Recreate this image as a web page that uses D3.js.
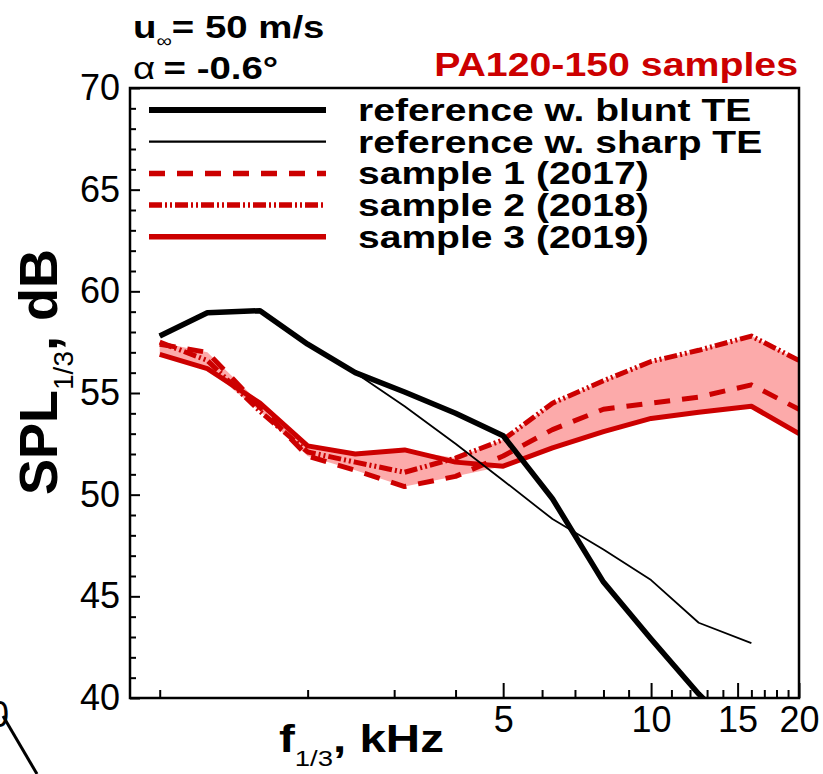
<!DOCTYPE html>
<html>
<head>
<meta charset="utf-8">
<title>SPL PA120-150 samples</title>
<script src="https://cdn.jsdelivr.net/npm/d3@7"></script>
<style>
  body { margin: 0; background: #fff; }
  svg { display: block; font-family: "Liberation Sans", Arial, sans-serif; }
</style>
</head>
<body>
<svg id="chart" width="823" height="774"></svg>
<script>
// 1/3-octave band centre frequencies, kHz
var freqs = [1, 1.25, 1.6, 2, 2.5, 3.15, 4, 5, 6.3, 8, 10, 12.5, 16, 20];

// SPL values, dB (null = not plotted)
var bluntTE = [57.8, 58.95, 59.05, 57.4, 56.0, 55.05, 54.0, 52.9, 49.8, 45.7, 42.9, 40.2, 37.6, null];
var sharpTE = [57.8, 58.95, 59.05, 57.4, 56.0, 54.35, 52.5, 50.7, 48.8, 47.3, 45.8, 43.7, 42.7, null];
var sample1 = [57.4, 57.0, 54.3, 51.9, 51.2, 50.4, 50.9, 51.9, 53.2, 54.2, 54.5, 54.8, 55.4, 54.2];
var sample2 = [57.5, 56.6, 54.1, 52.1, 51.6, 51.1, 51.8, 52.7, 54.5, 55.6, 56.55, 57.1, 57.8, 56.6];
var sample3 = [56.9, 56.2, 54.5, 52.4, 52.0, 52.2, 51.6, 51.4, 52.3, 53.1, 53.75, 54.05, 54.35, 53.0];

var yMajor = [40, 45, 50, 55, 60, 65, 70];
var yMinor = d3.range(40, 71).filter(function(d) { return d % 5 != 0; });
var xMajor = [5, 10, 15, 20];
var xMinor = [1, 2, 3, 4, 6, 7, 8, 9, 11, 12, 13, 14, 16, 17, 18, 19];

var legendLabels = ["reference w. blunt TE", "reference w. sharp TE",
  "sample 1 (2017)", "sample 2 (2018)", "sample 3 (2019)"];

var red = "#cc0000";
var plotL = 130, plotR = 799, plotT = 88, plotB = 698;

var svg = d3.select("#chart");

var x = d3.scaleLog().domain([0.87, 20]).range([plotL, plotR]);
var y = d3.scaleLinear().domain([40, 70]).range([plotB, plotT]);

// text stretched horizontally like the original export
function stext(g, px, py, size, sx, anchor, weight) {
  return g.append("text")
    .attr("transform", "translate(" + px + "," + py + ") scale(" + sx + ",1)")
    .attr("text-anchor", anchor || "start")
    .style("font-size", size + "px")
    .style("font-weight", weight || "bold");
}

var series = [
  {vals: bluntTE, color: "#000", width: 5.5, dash: null},
  {vals: sharpTE, color: "#000", width: 1.8, dash: null},
  {vals: sample1, color: red, width: 5, dash: "16,12"},
  {vals: sample2, color: red, width: 5, dash: "13,3,2,3,2,3"},
  {vals: sample3, color: red, width: 5, dash: null}
];

svg.append("clipPath").attr("id", "plotclip")
  .append("rect")
  .attr("x", plotL).attr("y", plotT)
  .attr("width", plotR - plotL).attr("height", plotB - plotT);

var plot = svg.append("g").attr("clip-path", "url(#plotclip)");

// band between the lowest and highest sample
var band = freqs.map(function(f, i) {
  return {f: f, lo: d3.min([sample1[i], sample2[i], sample3[i]]), hi: d3.max([sample1[i], sample2[i], sample3[i]])};
});
plot.append("path")
  .datum(band)
  .attr("fill", "#fcaaaa")
  .attr("d", d3.area()
    .x(function(d) { return x(d.f); })
    .y0(function(d) { return y(d.lo); })
    .y1(function(d) { return y(d.hi); }));

var line = d3.line()
  .defined(function(d) { return d[1] != null; })
  .x(function(d) { return x(d[0]); })
  .y(function(d) { return y(d[1]); });

// red samples first, references on top
[2, 3, 4, 0, 1].forEach(function(k) {
  var s = series[k];
  plot.append("path")
    .datum(freqs.map(function(f, i) { return [f, s.vals[i]]; }))
    .attr("fill", "none")
    .attr("stroke", s.color)
    .attr("stroke-width", s.width)
    .attr("stroke-dasharray", s.dash)
    .attr("stroke-linejoin", "round")
    .attr("d", line);
});

// axes
var yAxis = svg.append("g").attr("transform", "translate(" + plotL + ",0)");
yAxis.call(d3.axisLeft(y).tickValues(yMajor).tickSize(-10).tickPadding(10));
yAxis.append("g").call(d3.axisLeft(y).tickValues(yMinor).tickSize(-6).tickFormat(""));

var xAxis = svg.append("g").attr("transform", "translate(0," + plotB + ")");
xAxis.call(d3.axisBottom(x).tickValues(xMajor).tickSize(-15).tickPadding(8).tickFormat(d3.format("d")));
xAxis.append("g").call(d3.axisBottom(x).tickValues(xMinor).tickSize(-8).tickFormat(""));

svg.selectAll(".domain").remove();
svg.selectAll(".tick line").attr("stroke", "#000").attr("stroke-width", 2);
svg.selectAll(".tick text")
  .style("font-size", "36px")
  .style("font-family", "'Liberation Sans', Arial, sans-serif")
  .attr("fill", "#000");

// frame
svg.append("rect")
  .attr("x", plotL).attr("y", plotT)
  .attr("width", plotR - plotL).attr("height", plotB - plotT)
  .attr("fill", "none").attr("stroke", "#000").attr("stroke-width", 2.5);

// axis titles
var xt = stext(svg, 279, 752, 38, 1.25, "start");
xt.append("tspan").text("f");
xt.append("tspan").attr("dy", 14).style("font-size", "22px").style("font-weight", "normal").text("1/3");
xt.append("tspan").attr("dy", -14).text(", kHz");

var yt = svg.append("text")
  .attr("transform", "translate(57,372) rotate(-90)")
  .attr("text-anchor", "middle")
  .style("font-size", "54px").style("font-weight", "bold");
yt.append("tspan").text("SPL");
yt.append("tspan").attr("dy", 16).style("font-size", "28px").style("font-weight", "normal").text("1/3");
yt.append("tspan").attr("dy", -16).text(", dB");

// conditions
var u = stext(svg, 133, 38, 32, 1.2, "start");
u.append("tspan").text("u");
u.append("tspan").attr("dy", 9).style("font-size", "18px").style("font-weight", "normal").text("\u221e");
u.append("tspan").attr("dy", -9).text("= 50 m/s");

var a = stext(svg, 133, 79, 32, 1.2, "start");
a.append("tspan").style("font-weight", "normal").text("\u03b1");
a.append("tspan").attr("dx", 7).text("= -0.6\u00b0");

stext(svg, 798, 76, 33, 1.19, "end").attr("fill", red).text("PA120-150 samples");

// legend
var legend = svg.append("g");
legendLabels.forEach(function(label, i) {
  var ly = 110 + i * 31.7;
  var s = series[i];
  legend.append("line")
    .attr("x1", 149).attr("x2", 326)
    .attr("y1", ly).attr("y2", ly)
    .attr("stroke", s.color)
    .attr("stroke-width", s.width + 0.5)
    .attr("stroke-dasharray", s.dash);
  stext(legend, 358, ly + 11, 32, 1.22, "start").text(label);
});

// pieces of the neighbouring panel
stext(svg, 9, 727, 36, 1, "end", "normal").text("20");
svg.append("line")
  .attr("x1", 3).attr("y1", 716).attr("x2", 37).attr("y2", 774)
  .attr("stroke", "#000").attr("stroke-width", 3);
</script>
</body>
</html>
